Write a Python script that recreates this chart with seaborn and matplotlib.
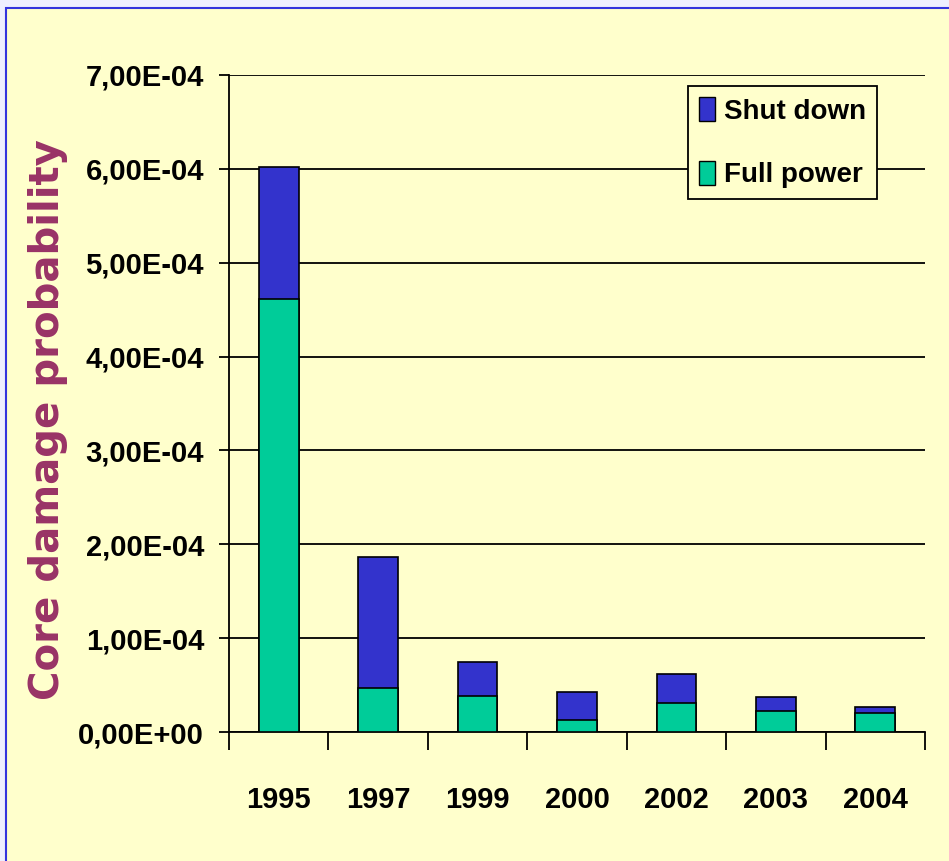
import numpy as np
import pandas as pd
import matplotlib
matplotlib.use("Agg")
import matplotlib.pyplot as plt
from matplotlib.patches import Patch, Rectangle
from matplotlib.ticker import FuncFormatter, FixedLocator
import seaborn as sns

# Data
years = ["1995", "1997", "1999", "2000", "2002", "2003", "2004"]
full_power = [4.61e-4, 0.47e-4, 0.38e-4, 0.13e-4, 0.31e-4, 0.22e-4, 0.20e-4]
shut_down = [1.41e-4, 1.39e-4, 0.365e-4, 0.30e-4, 0.31e-4, 0.15e-4, 0.07e-4]

df = pd.DataFrame({"year": years, "full": full_power, "shut": shut_down})
df["total"] = df["full"] + df["shut"]

green = "#00CC99"
blue = "#3333CC"
panel = "#FFFFCC"
tick_font = ["Liberation Sans", "DejaVu Sans"]

sns.set_style("white")
plt.rcParams["text.color"] = "black"
plt.rcParams["xtick.color"] = "black"
plt.rcParams["ytick.color"] = "black"

fig = plt.figure(figsize=(9.49, 8.61), dpi=100, facecolor="#EEEEFF")
# yellow panel with blue frame, behind everything
bg = Rectangle((6 / 949, -0.01), 1.0, 1 - 8 / 861 + 0.01, transform=fig.transFigure,
               facecolor=panel, edgecolor="#3333DD", linewidth=1.5, zorder=-10)
fig.add_artist(bg)

ax = fig.add_axes([229 / 949, 129 / 861, 696 / 949, 657 / 861])
ax.set_facecolor(panel)

# stacked bars: total first (shut down on top), then full power
sns.barplot(data=df, x="year", y="total", color=blue, edgecolor="black", linewidth=1.2,
            width=0.4, ax=ax, saturation=1, zorder=3)
sns.barplot(data=df, x="year", y="full", color=green, edgecolor="black", linewidth=1.2,
            width=0.4, ax=ax, saturation=1, zorder=4)

ax.set_xlim(-0.5, len(years) - 0.5)
ax.set_ylim(0, 7e-4)
ax.set_yticks(np.arange(0, 7.01e-4, 1e-4))
ax.yaxis.set_major_formatter(FuncFormatter(lambda v, p: ("%.2E" % v).replace(".", ",")))
ax.grid(axis="y", color="black", linewidth=1.3, zorder=1)
ax.set_axisbelow(True)

for s in ["top", "right"]:
    ax.spines[s].set_visible(False)
for s in ["left", "bottom"]:
    ax.spines[s].set_color("black")
    ax.spines[s].set_linewidth(1.3)

ax.tick_params(axis="y", left=True, length=7, width=1.3, pad=11, labelsize=21, labelcolor="black")
ax.tick_params(axis="x", which="major", length=0, pad=39, labelsize=21, labelcolor="black")
ax.xaxis.set_minor_locator(FixedLocator(np.arange(-0.5, len(years), 1.0)))
ax.tick_params(axis="x", which="minor", bottom=True, length=13, width=1.3)
for lab in ax.get_xticklabels() + ax.get_yticklabels():
    lab.set_family(tick_font)
    lab.set_fontweight("bold")
ax.set_xlabel("")
ax.set_ylabel("")

fig.text(48 / 949, 1 - 420 / 861, "Core damage probability", rotation=90, ha="center", va="center",
         fontsize=29, fontweight="bold", color="#993366", family="DejaVu Sans")

handles = [Patch(facecolor=blue, edgecolor="black"), Patch(facecolor=green, edgecolor="black")]
leg = ax.legend(handles, ["Shut down", "Full power"], loc="upper right",
                bbox_to_anchor=(877 / 949, 1 - 86 / 861), bbox_transform=fig.transFigure,
                borderaxespad=0,
                prop={"family": tick_font, "weight": "bold", "size": 20},
                frameon=True, fancybox=False, edgecolor="black", facecolor=panel, framealpha=1,
                handlelength=0.6, handleheight=0.95, handletextpad=0.3, labelspacing=1.3,
                borderpad=0.4)
leg.get_frame().set_linewidth(1.3)
for t in leg.get_texts():
    t.set_color("black")

fig.savefig("out.png", dpi=100, facecolor=fig.get_facecolor())
